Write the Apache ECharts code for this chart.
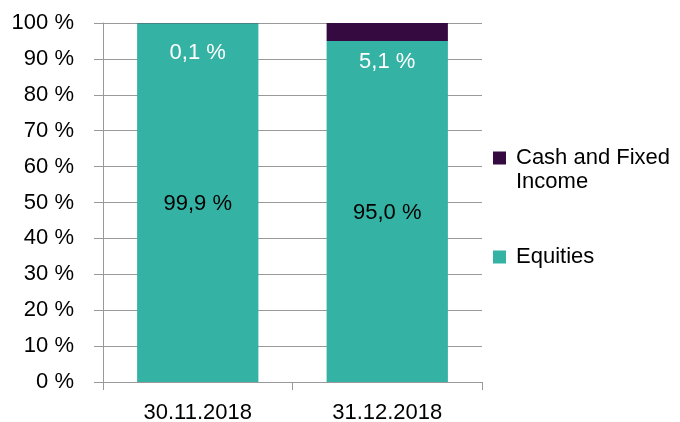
<!DOCTYPE html>
<html>
<head>
<meta charset="utf-8">
<script src="https://cdn.jsdelivr.net/npm/echarts@6/dist/echarts.min.js"></script>
<style>
html,body{margin:0;padding:0;background:#fff;}
#c{width:680px;height:422px;}
</style>
</head>
<body>
<div id="c"></div>
<script>
var categories = ['30.11.2018', '31.12.2018'];
var equities = [99.9, 95.0];
var cashFixed = [0.1, 5.1];
var yTicks = [0, 10, 20, 30, 40, 50, 60, 70, 80, 90, 100];

var FONT = '"Liberation Sans", Arial, sans-serif';
var fmt = function (v) { return v.toFixed(1).replace('.', ',') + ' %'; };

var chart = echarts.init(document.getElementById('c'));
chart.setOption({
  animation: false,
  textStyle: { fontFamily: FONT },
  grid: { left: 103, right: 198, top: 23, bottom: 40, containLabel: false, outerBoundsMode: 'none' },
  legend: [
    {
      data: ['Cash and Fixed Income'],
      orient: 'vertical', left: 493, top: 122, padding: 0,
      itemWidth: 13, itemHeight: 13, icon: 'rect',
      formatter: function () { return ' \nCash and Fixed\nIncome'; },
      textStyle: { fontFamily: FONT, fontSize: 22, color: '#000', lineHeight: 24, padding: [0, 0, 0, 5] }
    },
    {
      data: ['Equities'],
      orient: 'vertical', left: 493, top: 245, padding: 0,
      itemWidth: 13, itemHeight: 13, icon: 'rect',
      textStyle: { fontFamily: FONT, fontSize: 22, color: '#000', lineHeight: 24, padding: [0, 0, 0, 5] }
    }
  ],
  xAxis: {
    type: 'category',
    data: categories,
    axisLine: { lineStyle: { color: '#999', width: 1 } },
    axisTick: { show: true, length: 8, lineStyle: { color: '#999' } },
    axisLabel: { color: '#000', fontSize: 22, fontFamily: FONT, margin: 20 }
  },
  yAxis: {
    type: 'value', min: 0, max: 100, interval: 10,
    axisLine: { show: true, lineStyle: { color: '#999', width: 1 } },
    axisTick: { show: true, length: 9, inside: false, lineStyle: { color: '#999' } },
    splitLine: { show: true, lineStyle: { color: '#999', width: 1 } },
    axisLabel: {
      color: '#000', fontSize: 22, fontFamily: FONT, margin: 29,
      formatter: function (v) { return yTicks.indexOf(v) >= 0 ? v + ' %' : ''; }
    }
  },
  series: [
    {
      name: 'Equities', type: 'bar', stack: 'a', data: equities, barWidth: '64%',
      itemStyle: { color: '#34B2A4' },
      label: { show: true, position: 'inside', offset: [0, 1], color: '#000', fontSize: 22, fontFamily: FONT,
        formatter: function (p) { return fmt(p.value); } }
    },
    {
      name: 'Cash and Fixed Income', type: 'bar', stack: 'a', data: cashFixed, barWidth: '64%',
      itemStyle: { color: '#340A40' },
      label: { show: true, position: 'inside', offset: [0, 30], color: '#fff', fontSize: 22, fontFamily: FONT,
        formatter: function (p) { return fmt(p.value); } }
    }
  ]
});
</script>
</body>
</html>
